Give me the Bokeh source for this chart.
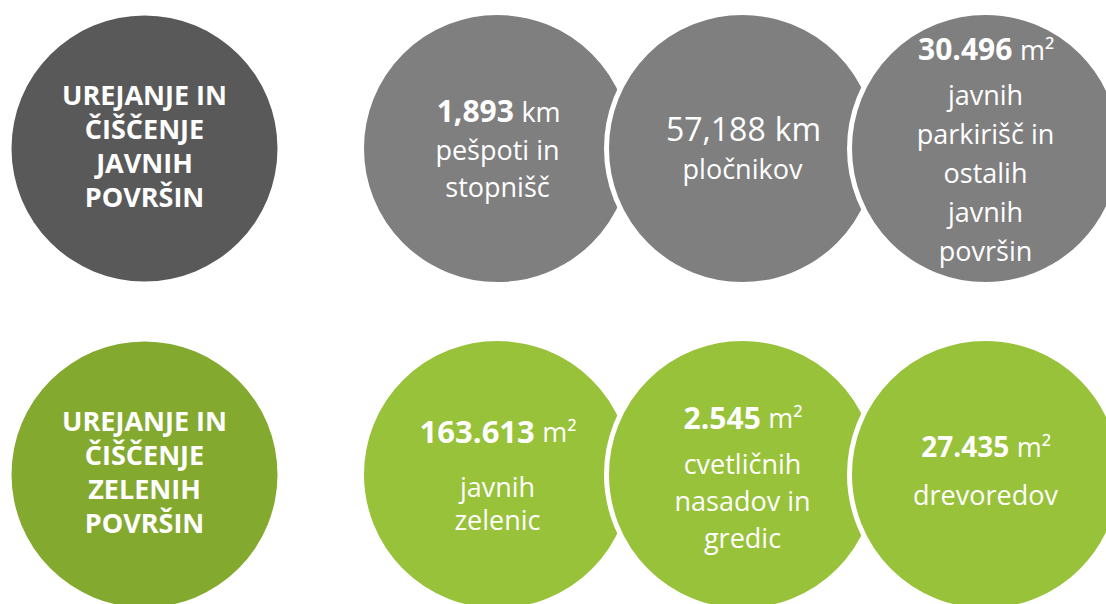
from bokeh.plotting import figure
from bokeh.models import Range1d
from bokeh.core.properties import value
from bokeh.embed import file_html
from bokeh.resources import INLINE

# ---------------- data ----------------
row_titles = [
    ["UREJANJE IN", "ČIŠČENJE", "JAVNIH", "POVRŠIN"],
    ["UREJANJE IN", "ČIŠČENJE", "ZELENIH", "POVRŠIN"],
]
top_numbers = ["1,893", "57,188", "30.496"]
top_units = ["km", "km", "m²"]
top_number_bold = [True, False, True]
top_desc = [["pešpoti in", "stopnišč"],
            ["pločnikov"],
            ["javnih", "parkirišč in", "ostalih", "javnih", "površin"]]

bottom_numbers = ["163.613", "2.545", "27.435"]
bottom_units = ["m²", "m²", "m²"]
bottom_number_bold = [True, True, True]
bottom_desc = [["javnih", "zelenic"],
               ["cvetličnih", "nasadov in", "gredic"],
               ["drevoredov"]]

# ---------------- layout / style ----------------
FONT = "Open Sans"
title_colors = ["#595959", "#84A92F"]
item_colors = ["#7F7F7F", "#97C23A"]
row_cy = [148, 474]
title_cx, title_r = 144, 133
title_shift = -3
item_cx = [497, 742, 985]
item_r = 136
num_size = [[30, 32, 30], [31, 30, 28]]
unit_size = [[27, 32, 27], [27, 27, 27]]
desc_size = 27
header_gap = [[38, 40, 45], [55, 46, 48]]
line_step = [[37, 40, 39], [33, 37, 38]]
block_shift = [[0, 0, 1], [1, 3, -4]]
title_size = 27
title_step = 34

# approximate Open Sans advance widths (em)
REG = {str(d): 0.572 for d in range(10)}
REG.update({",": 0.245, ".": 0.266, " ": 0.26, "k": 0.504, "m": 0.87, "²": 0.36})
BOLD = {str(d): 0.572 for d in range(10)}
BOLD.update({",": 0.29, ".": 0.29, " ": 0.26})


def text_width(s, size, bold):
    table = BOLD if bold else REG
    return sum(table.get(c, 0.56) for c in s) * size


W, H = 1106, 604
p = figure(width=W, height=H, x_range=Range1d(0, W), y_range=Range1d(H, 0),
           x_axis_type=None, y_axis_type=None, toolbar_location=None,
           output_backend="svg", min_border=0)
p.outline_line_color = None
p.background_fill_color = "white"
p.border_fill_color = "white"
p.grid.visible = False

rows = [
    (top_numbers, top_units, top_number_bold, top_desc),
    (bottom_numbers, bottom_units, bottom_number_bold, bottom_desc),
]

# circles
for r, cy in enumerate(row_cy):
    p.circle(x=[title_cx], y=[cy], radius=title_r, fill_color=title_colors[r],
             line_color=None)
    p.circle(x=item_cx, y=[cy] * 3, radius=item_r, fill_color=item_colors[r],
             line_color="white", line_width=5)

# texts
for r, cy in enumerate(row_cy):
    lines = row_titles[r]
    y0 = cy + title_shift - title_step * (len(lines) - 1) / 2
    p.text(x=[title_cx] * len(lines), y=[y0 + i * title_step for i in range(len(lines))],
           text=lines, text_font=value(FONT), text_font_style="bold",
           text_font_size=value(f"{title_size}px"), text_color="white",
           text_align="center", text_baseline="middle")

    numbers, units, bolds, descs = rows[r]
    for j, cx in enumerate(item_cx):
        desc = descs[j]
        total = header_gap[r][j] + line_step[r][j] * (len(desc) - 1)
        ytop = cy - total / 2 + block_shift[r][j]
        ns, us = num_size[r][j], unit_size[r][j]
        wn = text_width(numbers[j], ns, bolds[j])
        wu = text_width(units[j], us, False)
        gap = 0.28 * us
        split = cx - (wn + gap + wu) / 2 + wn
        p.text(x=[split], y=[ytop], text=[numbers[j]], text_font=value(FONT),
               text_font_style="bold" if bolds[j] else "normal",
               text_font_size=value(f"{ns}px"), text_color="white",
               text_align="right", text_baseline="middle")
        p.text(x=[split + gap], y=[ytop], text=[units[j]], text_font=value(FONT),
               text_font_size=value(f"{us}px"), text_color="white",
               text_align="left", text_baseline="middle")
        ys = [ytop + header_gap[r][j] + k * line_step[r][j] for k in range(len(desc))]
        p.text(x=[cx] * len(desc), y=ys, text=desc, text_font=value(FONT),
               text_font_size=value(f"{desc_size}px"), text_color="white",
               text_align="center", text_baseline="middle")

open("out.html", "w").write(file_html(p, INLINE))
